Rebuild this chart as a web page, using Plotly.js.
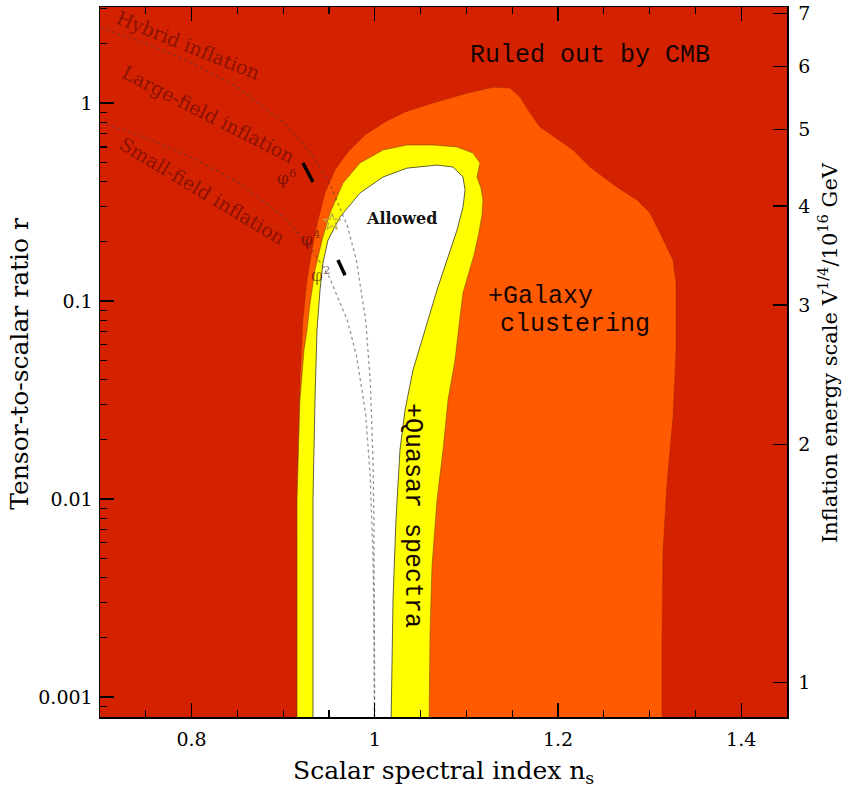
<!DOCTYPE html>
<html>
<head>
<meta charset="utf-8">
<script src="https://cdn.plot.ly/plotly-3.0.1.min.js"></script>
<style>html,body{margin:0;padding:0;background:#fff;}#chart{width:843px;height:791px;}</style>
</head>
<body>
<div id="chart"></div>
<script>
// ---- data ----
const orangeNs = [0.9151,0.9151,0.9162,0.9183,0.9216,0.9260,0.9314,0.9380,0.9456,0.9566,0.9707,0.9893,1.0111,1.0330,1.0635,1.1007,1.1290,1.1476,1.1585,1.1694,1.1803,1.1967,1.2164,1.2349,1.2644,1.2862,1.3004,1.3114,1.3255,1.3288,1.3288,1.3255,1.3190,1.3146,1.3135,1.3135];
const orangeR  = [0.0007,0.00309,0.0177,0.0399,0.0802,0.1276,0.181,0.256,0.351,0.459,0.566,0.689,0.802,0.901,1.0,1.12,1.20,1.19,1.07,0.890,0.757,0.673,0.579,0.475,0.376,0.324,0.278,0.220,0.161,0.123,0.0566,0.0260,0.0120,0.00552,0.00194,0.0007];

const yellowNs = [0.9151,0.9151,0.9183,0.9227,0.9260,0.9293,0.9347,0.9424,0.9511,0.9653,0.9838,1.0090,1.0352,1.0635,1.0897,1.1072,1.1148,1.1116,1.1159,1.1181,1.1170,1.1138,1.1083,1.1017,1.0963,1.0930,1.0876,1.0799,1.0745,1.0679,1.0624,1.0603,1.0592];
const yellowR  = [0.0007,0.00989,0.0316,0.0566,0.0714,0.0977,0.1435,0.203,0.278,0.394,0.498,0.579,0.614,0.614,0.600,0.559,0.498,0.423,0.372,0.324,0.272,0.223,0.171,0.132,0.110,0.083,0.0504,0.0316,0.0177,0.00989,0.00454,0.00210,0.0007];

const whiteNs = [0.9325,0.9325,0.9347,0.9369,0.9402,0.9434,0.9489,0.9620,0.9838,1.0090,1.0352,1.0679,1.0854,1.0963,1.0985,1.0963,1.0897,1.0788,1.0679,1.0548,1.0417,1.0330,1.0275,1.0231,1.0199,1.0177];
const whiteR  = [0.0007,0.00989,0.0316,0.0714,0.1137,0.1556,0.203,0.2655,0.351,0.423,0.469,0.486,0.475,0.423,0.364,0.298,0.228,0.161,0.1137,0.0714,0.0448,0.0281,0.0177,0.00783,0.00309,0.0007];

// dotted class boundaries (hybrid / large-field, large-field / small-field)
const hybridLineNs = [0.7,0.75,0.8,0.85,0.9,0.93,0.95,0.97,0.98,0.99,0.995,0.998,0.999,0.9995,0.9999];
const hybridLineR  = [2.4,2.0,1.6,1.2,0.8,0.56,0.4,0.24,0.16,0.08,0.04,0.016,0.008,0.004,0.0008];
const smallLineNs  = [0.7,0.75,0.8,0.85,0.9,0.93,0.95,0.97,0.98,0.99,0.995,0.998,0.999,0.9995,0.9999];
const smallLineR   = [0.8,0.667,0.533,0.4,0.267,0.187,0.133,0.08,0.053,0.027,0.013,0.0053,0.0027,0.0013,0.00027];

// model predictions
const phi6Ns = [0.9216,0.9325], phi6R = [0.498,0.399];
const phi2Ns = [0.9598,0.9675], phi2R = [0.161,0.135];
const phi4Ns = [0.9533],        phi4R = [0.25];

// ticks
const xTickVals = [0.8,1,1.2,1.4];
const xTickText = ['0.8','1','1.2','1.4'];
const yTickVals = [0.001,0.01,0.1,1];
const yTickText = ['0.001','0.01','0.1','1'];
const vTickVals = [1,2,3,4,5,6,7];
const vTickText = ['1','2','3','4','5','6','7'];
const rAtV1 = 0.00118;

// ---- layout ----
const RED = '#D42200', ORANGE = '#FF5A00', YELLOW = '#FFFF00';
const yLo = -3.101, yHi = 0.485;
const l10 = Math.log10;
const vLo = (yLo - l10(rAtV1))/4, vHi = (yHi - l10(rAtV1))/4;

const yMinor = [];
for (let e=-4;e<=0;e++) for (let m=2;m<=9;m++) yMinor.push(m*Math.pow(10,e));

const traces = [
  {x: orangeNs, y: orangeR, mode:'lines', fill:'toself', fillcolor: ORANGE, line:{color:'rgba(120,30,0,0.35)', width:0.8}, hoverinfo:'skip'},
  {x: yellowNs, y: yellowR, mode:'lines', fill:'toself', fillcolor: YELLOW, line:{color:'rgba(90,60,0,0.6)', width:0.8}, hoverinfo:'skip'},
  {x: whiteNs, y: whiteR, mode:'lines', fill:'toself', fillcolor: '#FFFFFF', line:{color:'rgba(70,70,40,0.85)', width:1}, hoverinfo:'skip'},
  {x: hybridLineNs, y: hybridLineR, mode:'lines', line:{color:'rgba(80,60,60,0.55)', width:1.3, dash:'dot'}, hoverinfo:'skip'},
  {x: smallLineNs, y: smallLineR, mode:'lines', line:{color:'rgba(80,60,60,0.55)', width:1.3, dash:'dot'}, hoverinfo:'skip'},
  {x: phi6Ns, y: phi6R, mode:'lines', line:{color:'#000', width:3.5}, hoverinfo:'skip'},
  {x: phi2Ns, y: phi2R, mode:'lines', line:{color:'#000', width:3.5}, hoverinfo:'skip'},
  {x: phi4Ns, y: phi4R, mode:'markers', marker:{symbol:'star-open', size:13, color:'rgba(190,170,70,0.9)', line:{width:1.2}}, hoverinfo:'skip'},
  {x: [1], y: [1], yaxis:'y2', mode:'markers', marker:{opacity:0}, hoverinfo:'skip'}
];

const inflFont = {family:'DejaVu Serif', size:19, color:'rgba(60,0,0,0.5)'};
const monoFont = {family:'Liberation Mono, Courier New, monospace', size:25, color:'#150400'};
const phiFont = {family:'DejaVu Serif', size:17, color:'rgba(60,0,0,0.55)'};
const titleFont = {family:'DejaVu Serif', size:25, color:'#000'};

const annotations = [
  {x:1.2349, y:l10(1.747), text:'Ruled out by CMB', font: monoFont},
  {x:1.1814, y:l10(0.106), text:'+Galaxy', font: monoFont},
  {x:1.2186, y:l10(0.0765), text:'clustering', font: monoFont},
  {x:1.0417, y:l10(0.0083), text:'+Quasar spectra', font: monoFont, textangle:90},
  {x:1.0286, y:l10(0.2626), text:'<b>Allowed</b>', font:{family:'DejaVu Serif', size:16, color:'#111'}},
  {x:0.7961, y:l10(1.963), text:'Hybrid inflation', font: inflFont, textangle:22},
  {x:0.8179, y:l10(0.880), text:'Large-field inflation', font: inflFont, textangle:27},
  {x:0.8124, y:l10(0.360), text:'Small-field inflation', font: inflFont, textangle:31},
  {x:0.9041, y:l10(0.423), text:'φ<sup>6</sup>', font: phiFont},
  {x:0.9293, y:l10(0.208), text:'φ<sup>4</sup>', font: phiFont},
  {x:0.9402, y:l10(0.137), text:'φ<sup>2</sup>', font: phiFont}
].map(a => Object.assign({xref:'x', yref:'y', showarrow:false}, a));

// axis titles placed in paper coordinates
annotations.push(
  {xref:'paper', yref:'paper', x:0.5, y:-0.0775, xanchor:'center', yanchor:'middle', showarrow:false,
   text:'Scalar spectral index n<sub>s</sub>', font:titleFont},
  {xref:'paper', yref:'paper', x:-0.1164, y:0.4975, xanchor:'center', yanchor:'middle', showarrow:false, textangle:-90,
   text:'Tensor-to-scalar ratio r', font:titleFont},
  {xref:'paper', yref:'paper', x:1.0597, y:0.5127, xanchor:'center', yanchor:'middle', showarrow:false, textangle:-90,
   text:'Inflation energy scale V<sup>1/4</sup>/10<sup>16</sup> GeV', font:{family:'DejaVu Serif', size:21, color:'#000'}}
);

const tickFont = {family:'DejaVu Serif', size:19, color:'#000'};

const layout = {
  width:843, height:791,
  margin:{l:100, r:56, t:7, b:74},
  paper_bgcolor:'#fff', plot_bgcolor: RED,
  showlegend:false,
  xaxis:{
    range:[0.7,1.45], tickvals:xTickVals, ticktext:xTickText,
    ticks:'inside', ticklen:14, tickwidth:1.3, tickcolor:'#000', ticklabelstandoff:5,
    minor:{dtick:0.05, tick0:0, ticks:'inside', ticklen:7, tickwidth:1.1, tickcolor:'#000'},
    showline:true, linecolor:'#000', linewidth:1.5, mirror:'ticks',
    showgrid:false, zeroline:false, tickfont:tickFont, automargin:false
  },
  yaxis:{
    type:'log', range:[yLo,yHi], tickvals:yTickVals, ticktext:yTickText,
    ticks:'inside', ticklen:14, tickwidth:1.3, tickcolor:'#000', ticklabelstandoff:2,
    minor:{tickvals:yMinor, ticks:'inside', ticklen:7, tickwidth:1.1, tickcolor:'#000', showgrid:false},
    showline:true, linecolor:'#000', linewidth:1.5, mirror:false,
    showgrid:false, zeroline:false, tickfont:tickFont, automargin:false
  },
  yaxis2:{
    type:'log', overlaying:'y', side:'right', range:[vLo,vHi],
    tickvals:vTickVals, ticktext:vTickText,
    ticks:'inside', ticklen:14, tickwidth:1.3, tickcolor:'#000', ticklabelstandoff:6,
    showline:true, linecolor:'#000', linewidth:1.5,
    showgrid:false, zeroline:false, tickfont:tickFont, automargin:false
  },
  annotations: annotations
};

Plotly.newPlot('chart', traces, layout, {staticPlot:true, displayModeBar:false});
</script>
</body>
</html>
